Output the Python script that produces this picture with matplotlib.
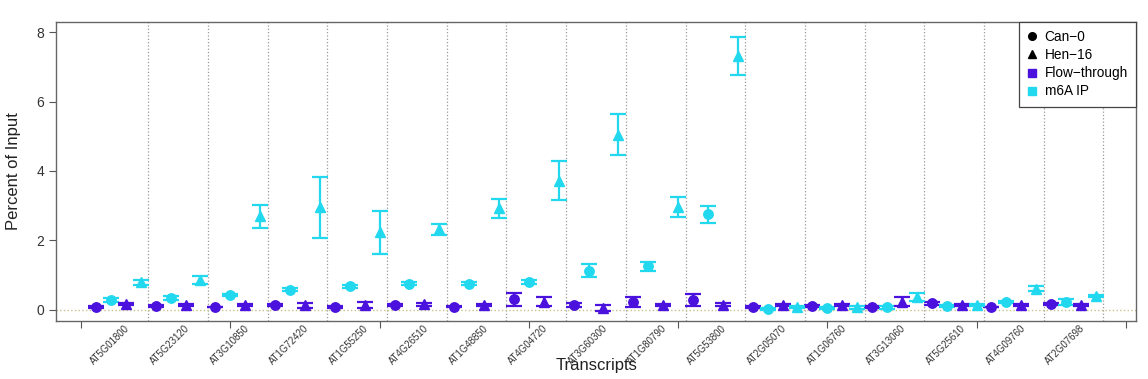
import numpy as np
import matplotlib
matplotlib.use("Agg")
import matplotlib.pyplot as plt
from matplotlib.lines import Line2D

plt.rcParams['font.family'] = ['Liberation Sans', 'DejaVu Sans']

# --- dados ---
transcripts = ["AT5G01800", "AT5G23120", "AT3G10850", "AT1G72420", "AT1G55250",
               "AT4G26510", "AT1G48850", "AT4G04720", "AT3G60300", "AT1G80790",
               "AT5G53800", "AT2G05070", "AT1G06760", "AT3G13060", "AT5G25610",
               "AT4G09760", "AT2G07698"]

# Can-0, flow-through
can_ft = [0.09, 0.11, 0.07, 0.13, 0.09, 0.13, 0.09, 0.30, 0.14, 0.23,
          0.28, 0.09, 0.12, 0.08, 0.19, 0.09, 0.16]
can_ft_se = [0.03, 0.03, 0.0, 0.03, 0.03, 0.03, 0.02, 0.19, 0.07, 0.15,
             0.18, 0.03, 0.03, 0.03, 0.04, 0.0, 0.03]
# Can-0, m6A IP
can_ip = [0.28, 0.34, 0.43, 0.58, 0.68, 0.76, 0.76, 0.81, 1.13, 1.25,
          2.75, 0.03, 0.06, 0.07, 0.11, 0.23, 0.22]
can_ip_se = [0.05, 0.05, 0.04, 0.04, 0.04, 0.04, 0.05, 0.05, 0.19, 0.14,
             0.24, 0.03, 0.03, 0.03, 0.03, 0.04, 0.09]
# Hen-16, flow-through
hen_ft = [0.16, 0.14, 0.14, 0.13, 0.15, 0.16, 0.14, 0.24, 0.06, 0.13,
          0.15, 0.13, 0.13, 0.24, 0.13, 0.13, 0.13]
hen_ft_se = [0.03, 0.03, 0.03, 0.07, 0.09, 0.05, 0.03, 0.13, 0.08, 0.03,
             0.04, 0.03, 0.03, 0.12, 0.03, 0.03, 0.03]
# Hen-16, m6A IP
hen_ip = [0.79, 0.86, 2.70, 2.96, 2.23, 2.32, 2.92, 3.72, 5.05, 2.96,
          7.30, 0.09, 0.07, 0.38, 0.14, 0.61, 0.40]
hen_ip_se = [0.06, 0.11, 0.33, 0.88, 0.63, 0.15, 0.26, 0.56, 0.59, 0.28,
             0.55, 0.03, 0.03, 0.11, 0.03, 0.08, 0.04]

PURPLE = "#4a12dc"
CYAN = "#22d8ee"

n = len(transcripts)
base = np.arange(n) * 4 + 1  # posição do primeiro ponto de cada grupo

fig = plt.figure(figsize=(11.48, 3.79), dpi=100)
ax = fig.add_axes([0.0488, 0.153, 0.9407, 0.789])

series = [
    (can_ft, can_ft_se, PURPLE, "o", 0),
    (can_ip, can_ip_se, CYAN, "o", 1),
    (hen_ft, hen_ft_se, PURPLE, "^", 2),
    (hen_ip, hen_ip_se, CYAN, "^", 3),
]
for vals, se, col, mk, off in series:
    ax.errorbar(base + off, vals, yerr=se, fmt=mk, color=col, ecolor=col,
                markersize=6.8, elinewidth=1.6, capsize=5.5, capthick=1.6,
                zorder=3)

# linhas divisórias entre transcritos
for g in range(n):
    ax.axvline(base[g] + 3.5, color="#999999", linestyle=":", linewidth=0.9, zorder=1)
ax.axhline(0, color="#c8c28a", linestyle=":", linewidth=1.0, zorder=1)

ax.set_xlim(-1.68, 70.68)
ax.set_ylim(-0.32, 8.29)
ax.set_xticks(np.arange(0, 71, 10))
ax.set_xticklabels([""] * 8)
ax.set_yticks([0, 2, 4, 6, 8])
ax.tick_params(axis="both", direction="out", length=5, color="#555555",
               labelcolor="#333333", labelsize=10)
for s in ax.spines.values():
    s.set_color("#666666")
    s.set_linewidth(1.0)

# rótulos dos transcritos (inclinados)
for g, name in enumerate(transcripts):
    ax.text(base[g] + 2.4, -0.008, name, rotation=45, ha="right", va="top",
            fontsize=6.9, color="#333333",
            transform=ax.get_xaxis_transform())

ax.set_ylabel("Percent of Input", fontsize=12, color="#222222", labelpad=11)
fig.text(0.52, 0.015, "Transcripts", ha="center", va="bottom", fontsize=12,
         color="#222222")

handles = [
    Line2D([], [], marker="o", color="black", linestyle="", markersize=5.5),
    Line2D([], [], marker="^", color="black", linestyle="", markersize=5.5),
    Line2D([], [], marker="s", color=PURPLE, linestyle="", markersize=5.5),
    Line2D([], [], marker="s", color=CYAN, linestyle="", markersize=5.5),
]
leg = ax.legend(handles, ["Can\u22120", "Hen\u221216", "Flow\u2212through", "m6A IP"],
                loc="upper right", borderaxespad=0, fancybox=False,
                edgecolor="#444444", framealpha=1, fontsize=9.8,
                handlelength=0.8, handletextpad=0.5, labelspacing=0.3,
                borderpad=0.6)
leg.get_frame().set_linewidth(0.9)

plt.savefig("out.png", dpi=100)
